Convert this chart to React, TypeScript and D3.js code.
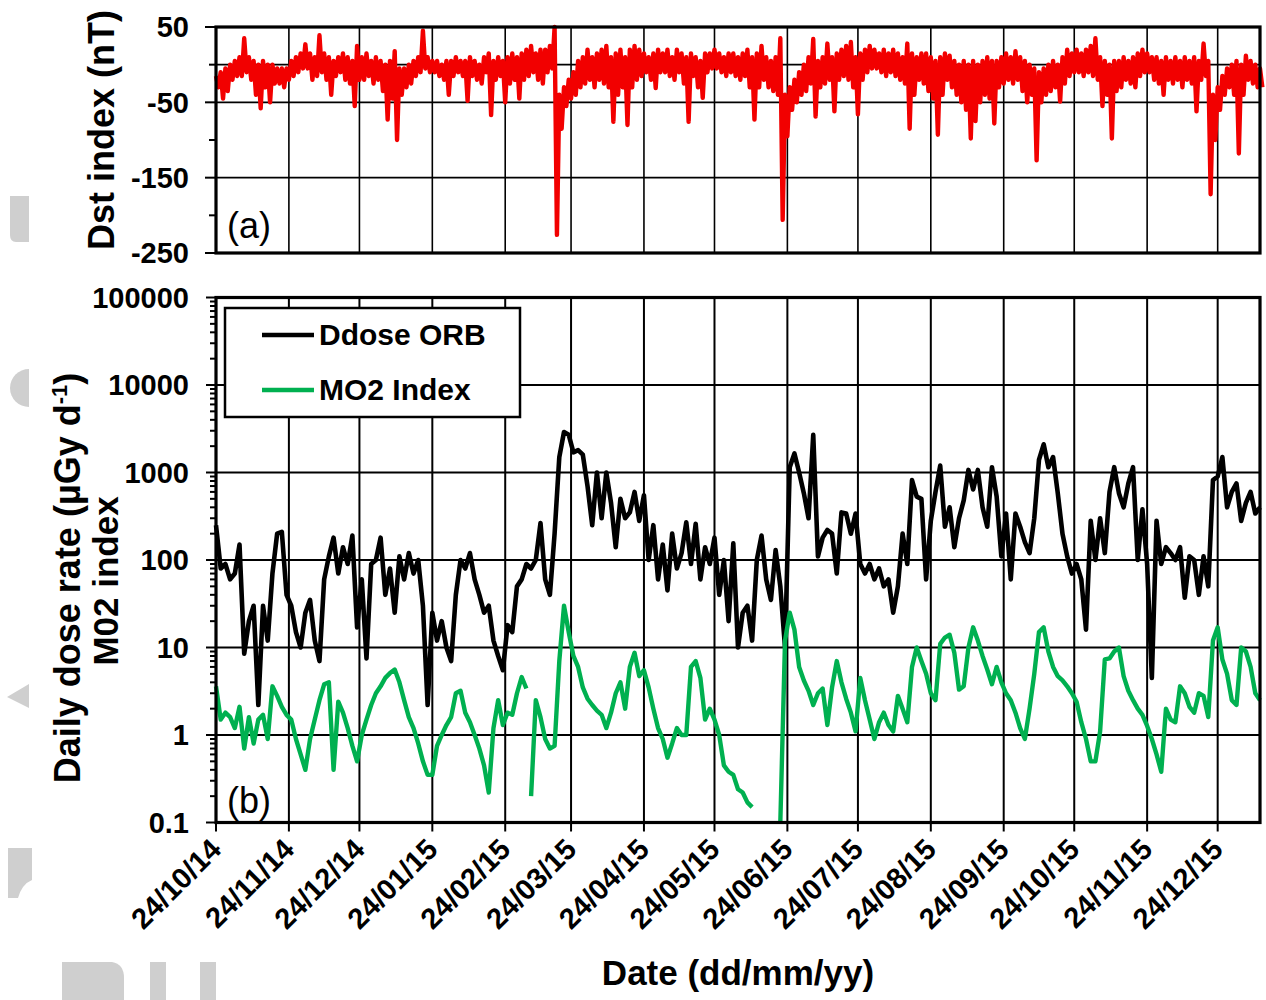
import React from 'react';
import * as d3 from 'd3';

// x axis: one tick on the 24th of each month
const dateTicks = ["24/10/14", "24/11/14", "24/12/14", "24/01/15", "24/02/15", "24/03/15", "24/04/15", "24/05/15",
  "24/06/15", "24/07/15", "24/08/15", "24/09/15", "24/10/15", "24/11/15", "24/12/15"];

const dstTicks = [50, -50, -150, -250];
const dstMinorTicks = [0, -100, -200];
const dstGrid = [-150, -50, 0];
const doseTicks = [0.1, 1, 10, 100, 1000, 10000, 100000];
const doseTickLabels = ["0.1", "1", "10", "100", "1000", "10000", "100000"];
const seriesNames = ["Ddose ORB", "MO2 Index"];

// Dst index (nT): upper / lower envelope, one pair every 2 days from 24/10/14
const dstHigh = [
  -15, -10, -5, 0, 5, 10, 35, 10, 5, 0, 5, 0, 0, -5, -5, -5,
  5, 10, 15, 27, 15, 10, 39, 15, 10, 5, 10, 15, 10, 5, 25,
  10, 15, 5, 10, 5, 0, 5, 18, -5, -5, 0, 5, 10, 45, 10,
  5, 5, 0, 5, 5, 10, 5, 5, 10, 5, 0, 10, 15, 5, 10,
  5, 10, 15, 10, 15, 20, 25, 15, 20, 20, 25, 50, -40, -30, -20,
  -10, 5, 10, 20, 10, 15, 20, 25, 10, 15, 20, 10, 20, 25, 20,
  15, 10, 15, 20, 15, 20, 10, 20, 15, 10, 15, 10, 5, 15, 15,
  20, 15, 10, 15, 15, 10, 15, 20, 10, 15, 25, 10, 5, 10, 35, -40, -30, -20, -10,
  0, 10, 34, 5, 10, 28, 10, 15, 20, 25, 30, 10,
  15, 20, 25, 20, 15, 20, 15, 20, 15, 10, 28, 15, 10, 15, 15, 10, 5, 10, 15, 12, 5, 0, 5, 0, 5, 0, 5, 10, 5, 5, 10,
  15, 10, 18, 10, 5, 0, -5, -10, -5, 0, 5, 0, 10, 20, 15, 20, 15, 20, 25, 35, 10, 5, 0, 5, 5, 10, 5, 10, 15, 20,
  15, 10, 10, 5, 10, 5, 10, 5, 10, 5, 10, 5, 28, 5, -40, -30, -15, -5, 0, 5, 0, 12, 5, 0, -5,
];
const dstLow = [
  -30, -45, -35, -20, -15, -15, -10, -20, -40, -58, -30, -50, -25, -25, -30, -20,
  -15, -10, -5, -5, -20, -15, -10, -20, -40, -15, -10, -20, -25, -55, -20,
  -20, -15, -25, -20, -35, -73, -45, -100, -40, -30, -25, -15, -10, -5, -10,
  -10, -15, -20, -40, -15, -10, -15, -48, -15, -20, -25, -10, -67, -20, -15,
  -50, -25, -20, -45, -20, -15, -10, -20, -25, -10, -5, -226, -85, -55, -45,
  -40, -30, -25, -20, -30, -20, -25, -30, -76, -40, -30, -80, -30, -20, -15,
  -10, -20, -31, -10, -10, -15, -20, -10, -25, -76, -15, -30, -44, -10, -5,
  -5, -10, -15, -10, -15, -20, -15, -30, -73, -30, -20, -30, -35, -40, -206, -95, -60, -50, -40,
  -35, -25, -69, -30, -25, -20, -62, -20, -15, -20, -30, -66,
  -20, -10, -5, -5, -10, -15, -10, -15, -20, -25, -85, -40, -20, -25, -35, -45, -93, -40, -20, -30, -40, -50, -60, -98, -75, -50, -40, -45, -78, -30, -25,
  -20, -25, -20, -35, -50, -40, -127, -50, -40, -35, -30, -49, -25, -15, -10, -10, -15, -10, -15, -20, -55, -40, -98, -35, -30, -20, -25, -30, -15, -10,
  -10, -20, -25, -40, -20, -25, -20, -30, -20, -25, -62, -20, -15, -172, -100, -60, -40, -30, -40, -118, -40, -20, -25, -30, -30,
];

// Daily dose rate ORB (uGy/d), every 2 days from 24/10/14
const doseOrb = [
  250, 80, 90, 60, 70, 150, 8.5, 20, 30, 2.2,
  30, 12, 70, 200, 210, 40, 30, 15, 10, 25,
  35, 12, 7, 60, 110, 180, 70, 140, 90, 190,
  17, 60, 7.5, 90, 100, 180, 40, 80, 25, 110,
  60, 120, 70, 100, 30, 2.2, 25, 12, 20, 10,
  7, 40, 100, 80, 120, 60, 40, 25, 30, 12,
  8, 5.5, 18, 15, 50, 60, 90, 80, 100, 265,
  60, 40, 200, 1500, 2900, 2700, 1700, 1800, 1600, 700,
  250, 1000, 300, 1000, 450, 140, 500, 300, 350, 600,
  280, 550, 100, 250, 60, 150, 45, 200, 80, 120,
  270, 90, 260, 60, 140, 90, 180, 40, 100, 20,
  155, 10, 25, 30, 12, 100, 190, 60, 35, 130,
  50, 10, 1150, 1650, 1000, 580, 300, 2700, 110, 180,
  220, 200, 70, 350, 340, 200, 340, 90, 70, 90,
  60, 80, 50, 60, 25, 50, 200, 90, 820, 530,
  500, 60, 280, 600, 1200, 240, 400, 140, 300, 480,
  1070, 640, 1070, 400, 240, 1150, 530, 110, 340, 60,
  340, 240, 160, 120, 300, 1400, 2100, 1150, 1500, 580,
  200, 110, 70, 90, 60, 16, 280, 100, 300, 120,
  600, 1150, 580, 400, 750, 1150, 100, 380, 90, 4.5,
  280, 90, 140, 120, 100, 140, 37, 110, 100, 40,
  110, 50, 820, 900, 1500, 400, 600, 750, 280, 450,
  600, 340, 400,
];

// MO2 index, every 2 days, three pieces (the line breaks between them)
const mo2StartDays = [0, 134, 240];
const mo2A = [
  3.6, 1.5, 1.8, 1.6, 1.2, 2.1, 0.7, 1.6, 0.8, 1.5,
  1.7, 0.9, 3.6, 2.8, 2.1, 1.7, 1.5, 0.9, 0.6, 0.4,
  0.9, 1.5, 2.5, 3.8, 4.0, 0.4, 2.4, 1.8, 1.2, 0.75,
  0.5, 1.0, 1.5, 2.2, 3.0, 3.6, 4.5, 5.1, 5.6, 4.0,
  2.5, 1.6, 1.2, 0.8, 0.5, 0.35, 0.35, 0.75, 1.0, 1.3,
  1.6, 3.0, 3.2, 1.8, 1.4, 1.0, 0.7, 0.45, 0.22, 1.2,
  2.5, 1.3, 1.8, 1.7, 3.0, 4.6, 3.4,
];
const mo2B = [
  0.2, 2.5, 1.6, 0.9, 0.7, 0.75, 7, 30, 15, 8,
  6, 3.5, 2.6, 2.2, 1.9, 1.7, 1.2, 1.8, 3.0, 4.0,
  2.0, 6.0, 8.7, 4.7, 5.5, 3.5, 2.0, 1.2, 0.9, 0.55,
  0.8, 1.2, 1.0, 1.0, 6.0, 7.0, 4.5, 1.5, 2.0, 1.5,
  1.0, 0.45, 0.38, 0.35, 0.24, 0.22, 0.17, 0.15,
];
const mo2C = [
  0.1, 12, 25, 16, 6, 4.2, 3.2, 2.2, 3.0, 3.4,
  1.3, 3.5, 7.0, 4.0, 2.6, 1.8, 1.1, 4.5, 2.5, 1.5,
  0.9, 1.4, 1.8, 1.3, 1.1, 2.8, 2.0, 1.4, 6, 10,
  7, 5, 3.0, 2.5, 11, 13, 14, 8.7, 3.3, 3.6,
  10, 17, 12, 8, 5.6, 3.8, 6.0, 4.0, 3.0, 2.5,
  1.8, 1.2, 0.9, 2.0, 5.0, 15, 17, 9, 6, 4.7,
  4.2, 3.6, 3.0, 2.4, 1.4, 0.9, 0.5, 0.5, 1.1, 7.3,
  7.5, 9, 10, 4.7, 3.2, 2.5, 2.0, 1.7, 1.27, 0.9,
  0.6, 0.38, 2.0, 1.5, 1.4, 3.6, 3.0, 2.1, 1.8, 3.0,
  2.8, 1.6, 12, 17, 7.3, 5, 2.5, 2.2, 10, 9,
  6, 3.0, 2.5,
];

const FONT = "'Liberation Sans', Arial, sans-serif";
const RED = "#f20000";
const GREEN = "#00b050";

const left = 216, right = 1260;
const topA = 27, bottomA = 253;
const topB = 297.5, bottomB = 822.5;

const parseTick = d3.utcParse("%d/%m/%y");
const startDate = parseTick(dateTicks[0]) as Date;
const day = (n: number) => d3.utcDay.offset(startDate, n);

const x = d3.scaleUtc().domain([startDate, day(444)]).range([left, right]);
const yDst = d3.scaleLinear().domain([-250, 50]).range([bottomA, topA]);
const yDose = d3.scaleLog().domain([0.1, 100000]).range([bottomB, topB]);

type Pt = [Date, number];
const dstLine = d3.line<Pt>().x(d => x(d[0])).y(d => yDst(d[1]));
const doseLine = d3.line<Pt>().x(d => x(d[0])).y(d => yDose(d[1]));

const dstPts: Pt[] = dstHigh.flatMap((h, i) => [[day(2 * i), h], [day(2 * i + 1), dstLow[i]]] as Pt[]);
const dosePts: Pt[] = doseOrb.map((v, i) => [day(2 * i), v]);
const mo2Pieces: Pt[][] = [mo2A, mo2B, mo2C].map((seg, s) =>
  seg.map((v, i) => [day(mo2StartDays[s] + 2 * i), v] as Pt));

const tickDates = dateTicks.map(t => parseTick(t) as Date);
const minorLog = doseTicks.slice(0, -1).flatMap(d => d3.range(2, 10).map(m => d * m));

export default function App() {
  return (
    <svg width={1266} height={1000} style={{ position: 'absolute', left: 0, top: 0, background: '#fff' }}
      fontFamily={FONT}>
      <rect width={1266} height={1000} fill="#fff" />
      {/* faint watermark remnants on the left edge */}
      <g fill="#cfcfcf">
        <path d="M10,196 H29 V242 H16 Q10,242 10,235 Z" />
        <path d="M29,369 A19,19 0 1 0 29,407 Z" />
        <path d="M29,684 L7,697 L29,708 Z" />
        <path d="M8,848 H32 V880 Q22,884 18,898 H8 Z" />
        <path d="M62,962 H112 Q124,964 124,978 V1000 H62 Z" />
        <path d="M150,962 H166 V1000 H150 Z M200,962 H216 V1000 H200 Z" />
      </g>

      {/* panel (a) */}
      <rect x={left} y={topA} width={right - left} height={bottomA - topA} fill="#fff" />
      <g stroke="#000" strokeWidth={1.6}>
        {tickDates.slice(1).map((t, i) => <line key={i} x1={x(t)} x2={x(t)} y1={topA} y2={bottomA} />)}
        {dstGrid.map(v => <line key={v} x1={left} x2={right} y1={yDst(v)} y2={yDst(v)} />)}
      </g>
      <path d={dstLine(dstPts) || ''} fill="none" stroke={RED} strokeWidth={4.4} strokeLinejoin="round" />
      <rect x={left} y={topA} width={right - left} height={bottomA - topA} fill="none" stroke="#000" strokeWidth={3.2} />
      <g stroke="#000" strokeWidth={2}>
        {dstTicks.map(v => <line key={v} x1={left - 11} x2={left} y1={yDst(v)} y2={yDst(v)} />)}
        {dstMinorTicks.map(v => <line key={v} x1={left - 7} x2={left} y1={yDst(v)} y2={yDst(v)} />)}
      </g>
      <g fontSize={29} fontWeight="bold" textAnchor="end">
        {dstTicks.map(v => <text key={v} x={189} y={yDst(v)} dy="0.36em">{v}</text>)}
      </g>
      <text x={227} y={238} fontSize={36}>(a)</text>
      <text transform={`translate(114,130) rotate(-90)`} textAnchor="middle" fontSize={36} fontWeight="bold">Dst index (nT)</text>

      {/* panel (b) */}
      <rect x={left} y={topB} width={right - left} height={bottomB - topB} fill="#fff" />
      <g stroke="#000" strokeWidth={2}>
        {tickDates.slice(1).map((t, i) => <line key={i} x1={x(t)} x2={x(t)} y1={topB} y2={bottomB} />)}
        {doseTicks.slice(1, -1).map(v => <line key={v} x1={left} x2={right} y1={yDose(v)} y2={yDose(v)} />)}
      </g>
      <path d={doseLine(dosePts) || ''} fill="none" stroke="#000" strokeWidth={4.6} strokeLinejoin="round" />
      {mo2Pieces.map((p, i) => (
        <path key={i} d={doseLine(p) || ''} fill="none" stroke={GREEN} strokeWidth={4.4} strokeLinejoin="round" />
      ))}
      <rect x={left} y={topB} width={right - left} height={bottomB - topB} fill="none" stroke="#000" strokeWidth={3.2} />
      <g stroke="#000" strokeWidth={2}>
        {doseTicks.map(v => <line key={v} x1={left - 10} x2={left} y1={yDose(v)} y2={yDose(v)} />)}
        {minorLog.map(v => <line key={v} x1={left - 6} x2={left} y1={yDose(v)} y2={yDose(v)} />)}
        {tickDates.map((t, i) => <line key={i} x1={x(t)} x2={x(t)} y1={bottomB} y2={bottomB + 9} />)}
      </g>
      <g fontSize={29} fontWeight="bold" textAnchor="end">
        {doseTicks.map((v, i) => <text key={v} x={189} y={yDose(v)} dy="0.36em">{doseTickLabels[i]}</text>)}
        {tickDates.map((t, i) => (
          <text key={i} transform={`translate(${x(t) + 7},851) rotate(-45)`}>{dateTicks[i]}</text>
        ))}
      </g>
      <text x={227} y={813} fontSize={36}>(b)</text>

      {/* legend */}
      <rect x={225} y={308} width={295} height={109} fill="#fff" stroke="#000" strokeWidth={2.5} />
      {seriesNames.map((name, i) => (
        <g key={name}>
          <line x1={262} x2={314} y1={335 + i * 55} y2={335 + i * 55} stroke={i === 0 ? '#000' : GREEN} strokeWidth={4.6} />
          <text x={319} y={345 + i * 55} fontSize={30} fontWeight="bold">{name}</text>
        </g>
      ))}

      {/* axis titles */}
      <text transform={`translate(80,578) rotate(-90)`} textAnchor="middle" fontSize={36} fontWeight="bold">
        Daily dose rate (µGy d<tspan dy={-13} fontSize={22}>-1</tspan><tspan dy={13}>)</tspan>
      </text>
      <text transform={`translate(118,581) rotate(-90)`} textAnchor="middle" fontSize={35} fontWeight="bold">M02 index</text>
      <text x={(left + right) / 2} y={985} textAnchor="middle" fontSize={35} fontWeight="bold">Date (dd/mm/yy)</text>
    </svg>
  );
}
